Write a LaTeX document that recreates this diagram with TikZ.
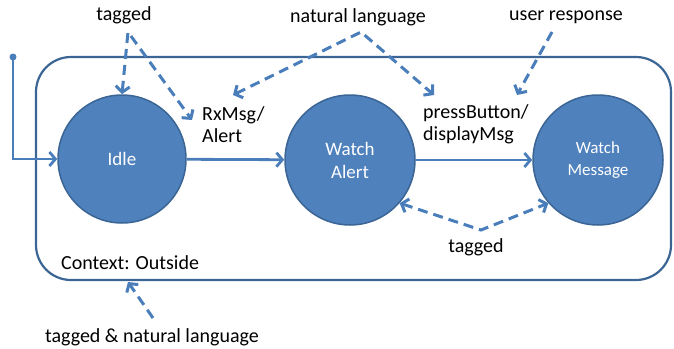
\documentclass[tikz,border=0pt]{standalone}
\usepackage{fontspec}
\setmainfont{Carlito}
\usetikzlibrary{arrows.meta}

\definecolor{stfill}{HTML}{4F81BD}
\definecolor{stline}{HTML}{3A6594}
\definecolor{arr}{HTML}{4A7EBB}

\tikzset{
  state/.style={circle, fill=stfill, draw=stline, line width=1.5pt,
    minimum size=128pt, inner sep=0pt, text=white, align=center,
    font=\fontsize{19}{23}\selectfont},
  trans/.style={draw=arr, line width=2.8pt, -{Straight Barb[length=6pt,width=14pt]}},
  hint/.style={draw=arr, line width=3pt, dash pattern=on 10pt off 6pt,
    {Straight Barb[length=6pt,width=14pt]}-{Straight Barb[length=6pt,width=14pt]}},
  hintone/.style={draw=arr, line width=3pt, dash pattern=on 10pt off 6pt,
    -{Straight Barb[length=6pt,width=14pt]}},
  lbl/.style={inner sep=0pt, align=left, font=\fontsize{20}{22}\selectfont}
}

\begin{document}
\begin{tikzpicture}[x=1pt, y=-1pt]
  \useasboundingbox (0,0) rectangle (674,348);

  % context frame
  \draw[draw=stline, line width=2.2pt, rounded corners=35pt] (36,57) rectangle (671,280);
  \node[lbl, anchor=base west] (ctx) at (61,269) {Context: Outside};

  % states
  \node[state] (idle) at (122,159) {Idle};
  \node[state, minimum size=130pt] (alert) at (350,160) {Watch\\Alert};
  \node[state, minimum size=130pt, font=\fontsize{17}{22}\selectfont] (msg) at (598,160) {Watch\\Message};

  % initial state
  \fill[arr] (13,57) circle (3.5pt);
  \coordinate (init) at (13,57);
  \draw[trans] (init) |- (idle.west);

  % transitions
  \draw[trans] (idle) -- (alert);
  \draw[trans] (alert) -- (msg);
  \node[lbl, anchor=base west] (rx) at (202,142) {RxMsg/\\Alert};
  \node[lbl, anchor=base west] (press) at (423,140) {pressButton/\\displayMsg};

  % annotations
  \node[lbl, anchor=base] (tagtop) at (124,20) {tagged};
  \node[lbl, anchor=base] (natlang) at (358,22) {natural language};
  \node[lbl, anchor=base] (user) at (566,20) {user response};
  \node[lbl, anchor=base] (tagbot) at (476,252) {tagged};
  \node[lbl, anchor=base] (both) at (152,342) {tagged \& natural language};

  \coordinate (p1) at (128,32);
  \coordinate (rxtip) at (192,120);
  \coordinate (p2) at (361,32);
  \coordinate (ltip) at (233,95);
  \coordinate (rtip) at (434,95);
  \coordinate (p3) at (552,32);
  \coordinate (utip) at (517,95);
  \coordinate (p4) at (481,230);
  \coordinate (p5) at (153,318);
  \coordinate (ctxtip) at (128,282);

  \draw[hint] (idle.north) -- (p1) -- (rxtip);
  \draw[hint] (ltip) -- (p2) -- (rtip);
  \draw[hintone] (p3) -- (utip);
  \draw[hint] (alert.-41) -- (p4) -- (msg.-139);
  \draw[hintone] (p5) -- (ctxtip);
\end{tikzpicture}
\end{document}
